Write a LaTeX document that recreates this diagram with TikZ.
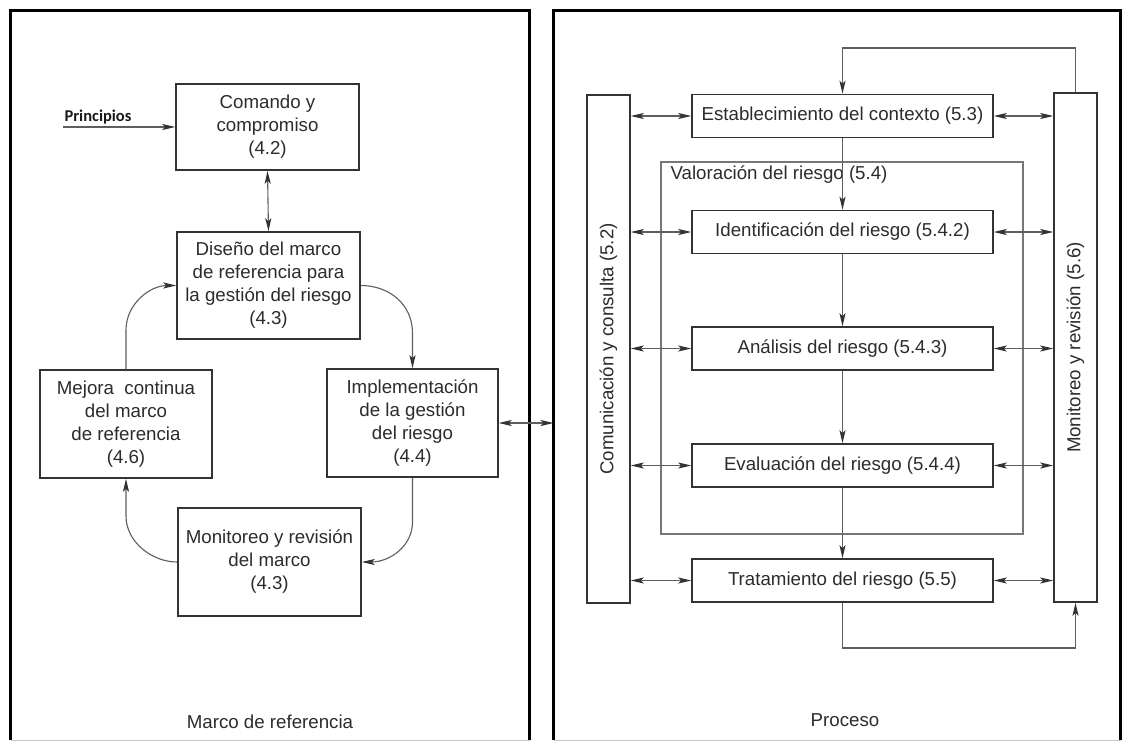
\documentclass[tikz,border=0pt]{standalone}
\usepackage{fontspec}
\usepackage{graphicx}
\setmainfont{Liberation Sans}
\newfontfamily\labelfont{Carlito}
\usetikzlibrary{arrows.meta,calc}
\definecolor{ink}{HTML}{2C2C2C}
\definecolor{wire}{HTML}{5E5E5E}
\definecolor{edge}{HTML}{333333}
\definecolor{soft}{HTML}{777777}
\tikzset{
  tip/.style={Stealth[length=13pt,width=6pt,inset=3pt,color=edge]},
  box/.style={draw=edge, line width=1.5pt, text=ink, align=center, inner sep=0pt,
    font=\fontsize{18.7}{23}\selectfont},
  txt/.style={text=ink, inner sep=0pt, font=\fontsize{18.7}{23}\selectfont},
  arr/.style={draw=wire, line width=1.1pt, -{Stealth[length=13pt,width=6pt,inset=3pt,color=edge]}},
  dbl/.style={draw=wire, line width=1.1pt,
    {Stealth[length=13pt,width=6pt,inset=3pt,color=edge]}-{Stealth[length=13pt,width=6pt,inset=3pt,color=edge]}},
  panel/.style={draw=none, inner sep=0pt, outer sep=0pt},
  frame/.style={draw=black, line width=2.6pt},
}
\begin{document}
\begin{tikzpicture}[x=1pt,y=-1pt]
\useasboundingbox (0,0) rectangle (1128,742);
\fill[white] (0,0) rectangle (1128,742);

% ---- panel frames ----
\node[panel, minimum width=519pt, minimum height=729.5pt] (lp) at (270,375.25) {};
\node[panel, minimum width=567pt, minimum height=729.5pt] (rp) at (837,375.25) {};
\draw[frame] (lp.south west) -- (lp.north west) -- (lp.north east) -- (lp.south east);
\draw[frame] (rp.south west) -- (rp.north west) -- (rp.north east) -- (rp.south east);
\draw[gray!45, line width=1pt] (lp.south west) -- (lp.south east);
\draw[gray!45, line width=1pt] (rp.south west) -- (rp.south east);

% ---- framework cycle ----
\node[box, minimum width=183pt, minimum height=86pt] (com) at (267.5,127)
  {Comando y\\compromiso\\(4.2)};
\node[box, minimum width=183pt, minimum height=107pt] (dis) at (268.5,285.5)
  {Diseño del marco\\de referencia para\\la gestión del riesgo\\(4.3)};
\node[box, minimum width=172pt, minimum height=108pt] (mej) at (126,424)
  {Mejora\ \ continua\\del marco\\de referencia\\(4.6)};
\node[box, minimum width=171pt, minimum height=108pt] (imp) at (412.5,423)
  {Implementación\\de la gestión\\del riesgo\\(4.4)};
\node[box, minimum width=183pt, minimum height=108pt] (mon) at (269.5,562)
  {Monitoreo y revisión\\del marco\\(4.3)};

\coordinate (pin) at (63,127);
\node[text=black!90, inner sep=0pt, font=\labelfont\bfseries\fontsize{16.5}{19}\selectfont]
  (pri) at (98,117) {Principios};
\draw[arr] (pin) -- (com.west);
\draw[dbl] (com.south) -- (dis.north);

\draw[arr] (dis.east) .. controls (390,285.5) and (412.5,305) .. (412.5,333) -- (imp.north);
\draw[arr] (imp.south) -- (412.5,522) .. controls (412.5,546) and (390,562) .. (mon.east);
\draw[arr] (mon.west) .. controls (152,562) and (126,542) .. (126,516) -- (mej.south);
\draw[arr] (mej.north) -- (126,330) .. controls (126,304) and (150,285.5) .. (dis.west);

\node[txt] (mref) at (270,722) {Marco de referencia};

\draw[dbl] (imp.east) -- (imp.east -| rp.west);

% ---- process ----
\node[draw=soft, line width=1.2pt, minimum width=362pt, minimum height=372pt, inner sep=0pt]
  (val) at (842,348) {};
\node[txt, anchor=west] (valt) at ($(val.north west)+(10,13)$) {Valoración del riesgo (5.4)};

\node[box, minimum width=43pt, minimum height=508pt] (c52) at (608.5,349)
  {\rotatebox{90}{Comunicación y consulta (5.2)}};
\node[box, minimum width=43pt, minimum height=509pt] (m56) at (1075.5,347.5)
  {\rotatebox{90}{Monitoreo y revisión (5.6)}};

\node[box, minimum width=301pt, minimum height=43pt] (est) at (842.5,116)
  {Establecimiento del contexto (5.3)};
\node[box, minimum width=301pt, minimum height=43pt] (ide) at (842.5,232)
  {Identificación del riesgo (5.4.2)};
\node[box, minimum width=301pt, minimum height=43pt] (ana) at (842.5,348.5)
  {Análisis del riesgo (5.4.3)};
\node[box, minimum width=301pt, minimum height=43pt] (eva) at (842.5,465.5)
  {Evaluación del riesgo (5.4.4)};
\node[box, minimum width=301pt, minimum height=43pt] (tra) at (842.5,580.5)
  {Tratamiento del riesgo (5.5)};

\draw[arr] (est.south) -- (ide.north);
\draw[arr] (ide.south) -- (ana.north);
\draw[arr] (ana.south) -- (eva.north);
\draw[arr] (eva.south) -- (tra.north);

\foreach \b in {est,ide,ana,eva,tra}{
  \draw[dbl] (c52.east |- \b.west) -- (\b.west);
  \draw[dbl] (\b.east) -- (m56.west |- \b.east);
}

\coordinate (topl) at (1075.5,48);
\coordinate (botl) at (1075.5,648);
\draw[arr] (m56.north) -- (topl) -| (est.north);
\draw[arr] (tra.south) |- (botl) -- (m56.south);

\node[txt] (proc) at (845,720) {Proceso};
\end{tikzpicture}
\end{document}
